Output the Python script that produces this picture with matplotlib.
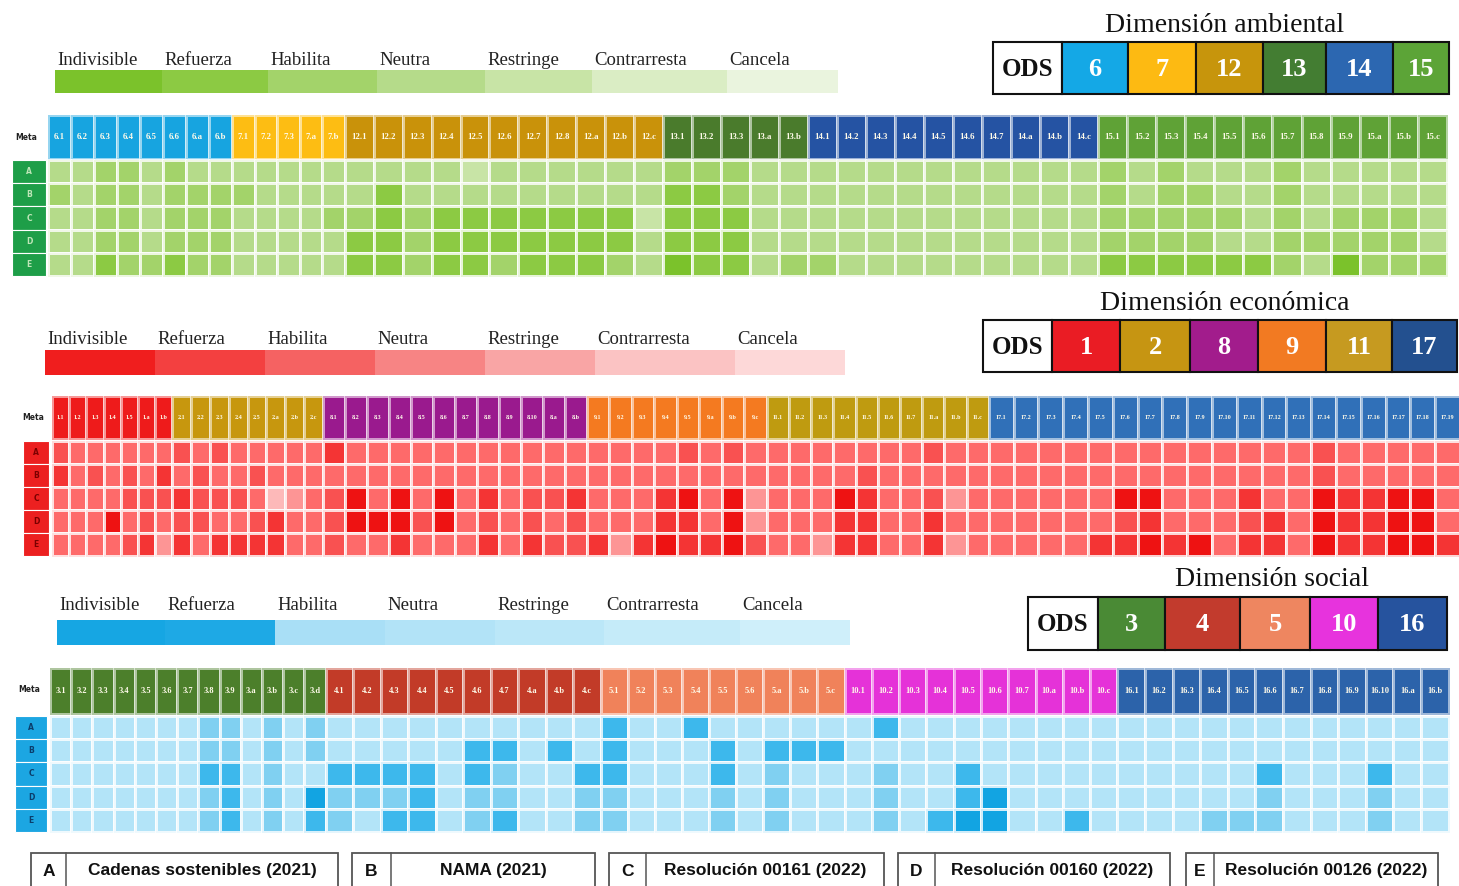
import numpy as np
import matplotlib
matplotlib.use('Agg')
import matplotlib.pyplot as plt
from matplotlib.colors import ListedColormap
from matplotlib.patches import Rectangle

W, H = 1459, 886
SERIF = ['Liberation Serif', 'DejaVu Serif']
NARROW = ['Liberation Sans Narrow', 'Liberation Sans', 'DejaVu Sans']

# ---------------- data ----------------
levels = ['Indivisible', 'Refuerza', 'Habilita', 'Neutra', 'Restringe', 'Contrarresta', 'Cancela']
row_ids = ['A', 'B', 'C', 'D', 'E']
sources = ['Cadenas sostenibles (2021)', 'NAMA (2021)', 'Resolución 00161 (2022)',
           'Resolución 00160 (2022)', 'Resolución 00126 (2022)']

# Dimensión ambiental
amb_title = 'Dimensión ambiental'
amb_ods = ['6', '7', '12', '13', '14', '15']
amb_metas = [
    ['6.1', '6.2', '6.3', '6.4', '6.5', '6.6', '6.a', '6.b'],
    ['7.1', '7.2', '7.3', '7.a', '7.b'],
    ['12.1', '12.2', '12.3', '12.4', '12.5', '12.6', '12.7', '12.8', '12.a', '12.b', '12.c'],
    ['13.1', '13.2', '13.3', '13.a', '13.b'],
    ['14.1', '14.2', '14.3', '14.4', '14.5', '14.6', '14.7', '14.a', '14.b', '14.c'],
    ['15.1', '15.2', '15.3', '15.4', '15.5', '15.6', '15.7', '15.8', '15.9', '15.a', '15.b', '15.c'],
]
# level index per cell (0 = Indivisible ... 6 = Cancela), groups separated by spaces
amb_values = [
    "33223233 33333 33334333333 22233 3333333333 232333233333",
    "23223222 23333 31333333333 11233 3333333333 232233233333",
    "33223222 33332 21211111114 11133 3333333333 222223232223",
    "33223222 33333 11211111113 11133 3333333333 222233222223",
    "33122122 33333 11211211123 01132 2333333333 111111230222",
]

# Dimensión económica
eco_title = 'Dimensión económica'
eco_ods = ['1', '2', '8', '9', '11', '17']
eco_metas = [
    ['1.1', '1.2', '1.3', '1.4', '1.5', '1.a', '1.b'],
    ['2.1', '2.2', '2.3', '2.4', '2.5', '2.a', '2.b', '2.c'],
    ['8.1', '8.2', '8.3', '8.4', '8.5', '8.6', '8.7', '8.8', '8.9', '8.10', '8.a', '8.b'],
    ['9.1', '9.2', '9.3', '9.4', '9.5', '9.a', '9.b', '9.c'],
    ['11.1', '11.2', '11.3', '11.4', '11.5', '11.6', '11.7', '11.a', '11.b', '11.c'],
    ['17.1', '17.2', '17.3', '17.4', '17.5', '17.6', '17.7', '17.8', '17.9', '17.10',
     '17.11', '17.12', '17.13', '17.14', '17.15', '17.16', '17.17', '17.18', '17.19'],
]
eco_values = [
    "2333333 23233333 133333333333 33332323 3333333233 3333333333333233333",
    "1323231 32332333 333333333333 33333333 3333233333 3333333333333233333",
    "3333222 12223543 203030313221 33310304 3330133243 3333300333133011003",
    "3330323 22332133 200020323232 33311304 3331133133 3333321333213011003",
    "3333214 13111133 233133313122 14101102 3341133143 3333110103113011001",
]

# Dimensión social
soc_title = 'Dimensión social'
soc_ods = ['3', '4', '5', '10', '16']
soc_metas = [
    ['3.1', '3.2', '3.3', '3.4', '3.5', '3.6', '3.7', '3.8', '3.9', '3.a', '3.b', '3.c', '3.d'],
    ['4.1', '4.2', '4.3', '4.4', '4.5', '4.6', '4.7', '4.a', '4.b', '4.c'],
    ['5.1', '5.2', '5.3', '5.4', '5.5', '5.6', '5.a', '5.b', '5.c'],
    ['10.1', '10.2', '10.3', '10.4', '10.5', '10.6', '10.7', '10.a', '10.b', '10.c'],
    ['16.1', '16.2', '16.3', '16.4', '16.5', '16.6', '16.7', '16.8', '16.9', '16.10', '16.a', '16.b'],
]
soc_values = [
    "3333333223232 3333333333 133133333 3133333333 333333333333",
    "3333333223232 3333311313 133313111 3333333333 333333333333",
    "3333333113233 1111312331 133313233 3233133333 333331333133",
    "3333333213230 2221322332 233323233 3233103333 333332333233",
    "3333333213231 2311321332 233323233 3231003313 333222333233",
]

# ---------------- styles / layout ----------------
GREEN = ['#7BC22B', '#8CCA43', '#A3D36A', '#B5DB8A', '#C8E4A6', '#DAEDC4', '#EAF4DE']
RED = ['#EE1212', '#F43434', '#F95151', '#FE6A6A', '#FD9595', '#FDB9B9', '#FED3D3']
BLUE = ['#12A4E2', '#3DB8EC', '#80D0F1', '#B3E4F8', '#BEE8F9', '#C8EDFA', '#D3F1FB']
GREEN_LEG = GREEN
RED_LEG = ['#F01E1E', '#F34040', '#F56262', '#F78484', '#F9A5A5', '#FBC3C3', '#FDD8D8']
BLUE_LEG = ['#16A6E3', '#1EA9E5', '#A9DFF6', '#B2E3F7', '#BBE7F8', '#C5EBF9', '#CFEFFA']

panels = [
    dict(title=amb_title, ods=amb_ods, metas=amb_metas, values=amb_values, pal=GREEN, leg=GREEN_LEG,
         head=['#17A4E0', '#FDBD13', '#C9920A', '#4A7B2C', '#2553A3', '#5FA236'],
         box=['#14A8E6', '#FDBA12', '#C7950C', '#437D32', '#2C67B1', '#5CA437'],
         x0=48, colw=[23, 22.6, 28.9, 29, 29, 29.1], yh=(115, 159), yr=(160, 276),
         lab=(12, 46), labc='#1E9E48', labt='#BFE6B8', meta=(26, 137), hfs=6.3,
         leg_edges=[55, 162, 268, 377, 485, 592, 727, 838], leg_y=(70, 93), leg_ty=60,
         tx=1225, ty=25, bx=[993, 1062, 1128, 1196, 1263, 1326, 1393, 1449], by=(42, 94)),
    dict(title=eco_title, ods=eco_ods, metas=eco_metas, values=eco_values, pal=RED, leg=RED_LEG,
         head=['#EE1B1B', '#C7970E', '#9A1A8E', '#F47A20', '#BF9B10', '#3070B8'],
         box=['#EA1C24', '#C69512', '#A21C8C', '#F27A22', '#C69A20', '#23508F'],
         x0=52, colw=[17.2, 18.8, 22, 22.5, 22.2, 24.8], yh=(396, 439), yr=(441, 556),
         lab=(23, 49), labc='#EC2020', labt='#7A0000', meta=(33, 417), hfs=4.4,
         leg_edges=[45, 155, 265, 375, 485, 595, 735, 845], leg_y=(350, 375), leg_ty=339,
         tx=1225, ty=303, bx=[983, 1052, 1120, 1190, 1258, 1326, 1392, 1457], by=(320, 372)),
    dict(title=soc_title, ods=soc_ods, metas=soc_metas, values=soc_values, pal=BLUE, leg=BLUE_LEG,
         head=['#4C7F2B', '#C23B28', '#F0825A', '#E532D8', '#2C63AA'],
         box=['#4A8A35', '#C23B2D', '#EE8660', '#E733DD', '#26539E'],
         x0=50, colw=[21.2, 27.5, 27.1, 27.3, 27.6], yh=(668, 714), yr=(716, 832),
         lab=(15, 47), labc='#1CA6E2', labt='#0B3D6B', meta=(29, 690), hfs=6.0,
         leg_edges=[57, 165, 275, 385, 495, 604, 740, 850], leg_y=(620, 645), leg_ty=606,
         tx=1272, ty=579, bx=[1028, 1098, 1165, 1240, 1310, 1378, 1447], by=(597, 650)),
]

fig = plt.figure(figsize=(W / 100, H / 100), dpi=100)
fig.patch.set_facecolor('white')
ax = fig.add_axes([0, 0, 1, 1])
ax.set_xlim(0, W)
ax.set_ylim(H, 0)
ax.axis('off')

for p in panels:
    ncols = [len(m) for m in p['metas']]
    widths = np.repeat(p['colw'], ncols)
    xe = p['x0'] + np.concatenate([[0], np.cumsum(widths)])
    xc = (xe[:-1] + xe[1:]) / 2

    # header row with meta labels
    gidx = np.repeat(np.arange(len(p['ods'])), ncols)[None, :]
    ax.pcolormesh(xe, np.array(p['yh']), gidx, cmap=ListedColormap(p['head']),
                  vmin=-0.5, vmax=len(p['ods']) - 0.5,
                  edgecolors=(1, 1, 1, 0.55), linewidth=0.8)
    labels = [m for g in p['metas'] for m in g]
    ym = (p['yh'][0] + p['yh'][1]) / 2
    for x, t in zip(xc, labels):
        ax.text(x, ym, t, ha='center', va='center', color='#FFFBEA',
                fontsize=p['hfs'], fontweight='bold', family=SERIF)
    ax.text(p['meta'][0], p['meta'][1], 'Meta', ha='center', va='center',
            fontsize=5.5, fontweight='bold', color='#222222')

    # cells
    data = np.array([[int(c) for c in r.replace(' ', '')] for r in p['values']])
    ye = np.linspace(p['yr'][0], p['yr'][1], len(row_ids) + 1)
    ax.pcolormesh(xe, ye, data, cmap=ListedColormap(p['pal']), vmin=-0.5, vmax=6.5,
                  edgecolors=(1, 1, 1, 0.8), linewidth=0.9)

    # row labels
    for i, r in enumerate(row_ids):
        ax.add_patch(Rectangle((p['lab'][0], ye[i]), p['lab'][1] - p['lab'][0], ye[i + 1] - ye[i],
                               facecolor=p['labc'], edgecolor='white', linewidth=0.8))
        ax.text((p['lab'][0] + p['lab'][1]) / 2, (ye[i] + ye[i + 1]) / 2, r,
                ha='center', va='center', fontsize=5.5, fontweight='bold', color=p['labt'])

    # interaction legend
    le = p['leg_edges']
    for k, name in enumerate(levels):
        ax.add_patch(Rectangle((le[k], p['leg_y'][0]), le[k + 1] - le[k], p['leg_y'][1] - p['leg_y'][0],
                               facecolor=p['leg'][k], edgecolor='none'))
        ax.text(le[k] + 2, p['leg_ty'], name, ha='left', va='center', fontsize=13.5,
                family=SERIF, color='#222222')

    # title and ODS box
    ax.text(p['tx'], p['ty'], p['title'], ha='center', va='center', fontsize=20,
            family=SERIF, color='#111111')
    bx, by = p['bx'], p['by']
    ax.add_patch(Rectangle((bx[0], by[0]), bx[1] - bx[0], by[1] - by[0],
                           facecolor='white', edgecolor='#111111', linewidth=1.5))
    ax.text((bx[0] + bx[1]) / 2, (by[0] + by[1]) / 2 + 1, 'ODS', ha='center', va='center',
            fontsize=18, fontweight='bold', family=SERIF, color='#111111')
    for k, o in enumerate(p['ods']):
        ax.add_patch(Rectangle((bx[k + 1], by[0]), bx[k + 2] - bx[k + 1], by[1] - by[0],
                               facecolor=p['box'][k], edgecolor='#111111', linewidth=1.5))
        ax.text((bx[k + 1] + bx[k + 2]) / 2, (by[0] + by[1]) / 2 + 1, o, ha='center', va='center',
                fontsize=19, fontweight='bold', family=SERIF, color='white')

# sources legend at the bottom
src_x = [(31, 66, 338), (352, 391, 595), (609, 646, 884), (898, 935, 1170), (1186, 1214, 1438)]
for (x0, x1, x2), r, s in zip(src_x, row_ids, sources):
    ax.add_patch(Rectangle((x0, 853), x2 - x0, 40, facecolor='white',
                           edgecolor='#555555', linewidth=1.3))
    ax.plot([x1, x1], [853, 886], color='#555555', linewidth=1.1)
    ax.text((x0 + x1) / 2, 871, r, ha='center', va='center', fontsize=12.5,
            fontweight='bold', family=NARROW, color='#111111')
    ax.text((x1 + x2) / 2, 871, s, ha='center', va='center', fontsize=12.5,
            fontweight='bold', family=NARROW, color='#111111')

fig.savefig('out.png', dpi=100, facecolor='white')
